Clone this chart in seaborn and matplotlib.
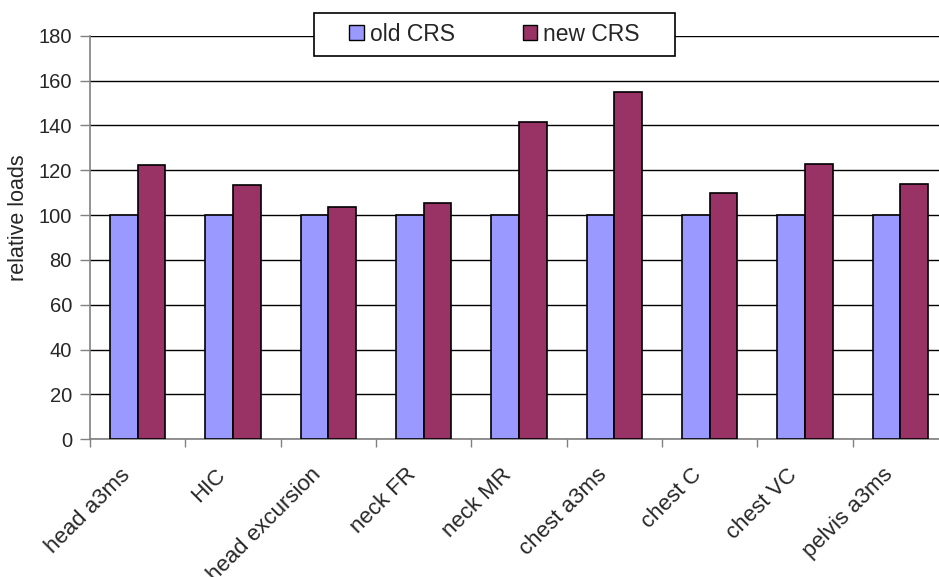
import numpy as np
import pandas as pd
import matplotlib
matplotlib.use("Agg")
import matplotlib.pyplot as plt
from matplotlib.patches import Rectangle
import seaborn as sns

# Relative occupant loads, old vs new child restraint system (old = 100)
measures = ["head a3ms", "HIC", "head excursion", "neck FR", "neck MR",
            "chest a3ms", "chest C", "chest VC", "pelvis a3ms"]
old_crs = [100, 100, 100, 100, 100, 100, 100, 100, 100]
new_crs = [122.5, 113.3, 103.7, 105.2, 141.3, 154.7, 109.9, 123.0, 113.8]
series_names = ["old CRS", "new CRS"]
series_colors = ["#9999FF", "#993366"]
y_ticks = [0, 20, 40, 60, 80, 100, 120, 140, 160, 180]

df = pd.DataFrame({
    "measure": measures * 2,
    "load": old_crs + new_crs,
    "crs": [series_names[0]] * len(measures) + [series_names[1]] * len(measures),
})

sns.set_style("white")
plt.rcParams["font.family"] = ["Liberation Sans", "DejaVu Sans"]

W, H = 939, 577
fig = plt.figure(figsize=(W / 100, H / 100), dpi=100)
left, right, top, bottom = 90, 948, 35.7, 439.3
ax = fig.add_axes([left / W, (H - bottom) / H, (right - left) / W, (bottom - top) / H])

sns.barplot(data=df, x="measure", y="load", hue="crs", order=measures,
            hue_order=series_names, palette=series_colors, width=0.577,
            gap=0, edgecolor="black", linewidth=1.2, saturation=1, ax=ax,
            zorder=3)

ax.set_xlim(-0.5, len(measures) - 0.5)
ax.set_ylim(0, 180)
ax.set_yticks(y_ticks)
ax.yaxis.grid(True, color="black", linewidth=1)
ax.set_axisbelow(True)

for side in ["top", "right"]:
    ax.spines[side].set_visible(False)
for side in ["left", "bottom"]:
    ax.spines[side].set_color("#808080")
    ax.spines[side].set_linewidth(1.2)

ax.tick_params(axis="y", which="major", left=True, length=7, width=1,
               color="#808080", labelsize=14.5, pad=6)

# Tick marks sit on the category boundaries; the slanted labels end just
# left of each category centre.
ax.set_xticks(np.arange(-0.5, len(measures), 1), minor=True)
ax.tick_params(axis="x", which="minor", bottom=True, length=6, width=1,
               color="#808080")
label_offset = 0.19
ax.set_xticks(np.arange(len(measures)) - label_offset, labels=measures)
ax.tick_params(axis="x", which="major", bottom=False, length=0, pad=18,
               labelsize=16)
for lbl in ax.get_xticklabels():
    lbl.set_rotation(45)
    lbl.set_ha("right")
    lbl.set_va("top")
    lbl.set_rotation_mode("anchor")

ax.set_xlabel("")
ax.set_ylabel("relative loads", fontsize=15.5)
ax.yaxis.set_label_coords(-60.5 / (right - left), 0.55)

# Legend: square swatches inside a plain white box straddling the top gridline
handles, labels = ax.get_legend_handles_labels()
ax.get_legend().remove()
box = Rectangle((314 / W, (H - 56) / H), 361 / W, 43 / H,
                transform=fig.transFigure, facecolor="white",
                edgecolor="black", linewidth=1.2, zorder=5)
fig.patches.append(box)
leg = fig.legend(handles, labels, loc="center",
                 bbox_to_anchor=(494.5 / W, (H - 34.5) / H), ncol=2,
                 frameon=False, fontsize=16.5, handlelength=0.63,
                 handleheight=0.63, handletextpad=0.27, columnspacing=2.95,
                 borderpad=0, borderaxespad=0)
leg.set_zorder(6)
for h in leg.legend_handles:
    h.set_edgecolor("black")
    h.set_linewidth(1)

fig.savefig("out.png", dpi=100)
